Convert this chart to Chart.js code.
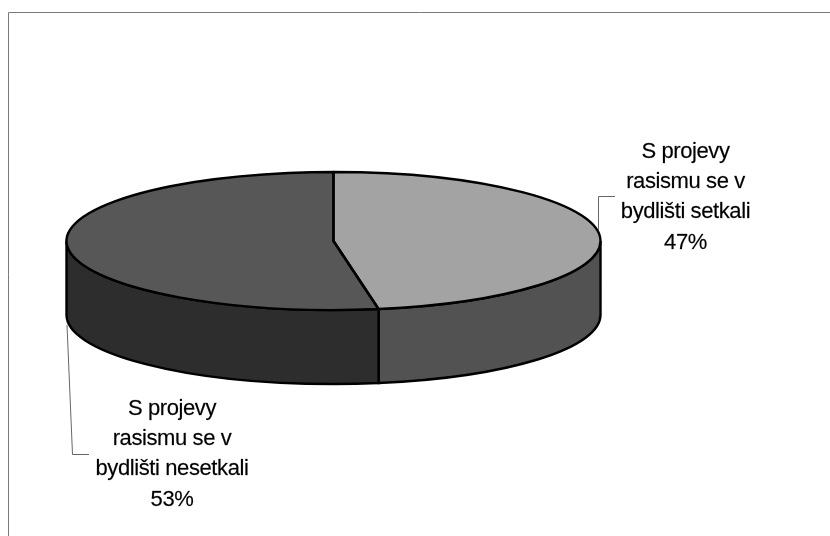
<!DOCTYPE html>
<html lang="en">
<head>
<meta charset="UTF-8">
<title>Projevy rasismu</title>
<script src="https://cdn.jsdelivr.net/npm/chart.js"></script>
<style>
    html, body { margin: 0; padding: 0; background: #ffffff; }
    canvas { display: block; }
</style>
</head>
<body>
<canvas id="pie" width="830" height="536"></canvas>
<script>
const categories = ['S projevy rasismu se v bydlišti setkali', 'S projevy rasismu se v bydlišti nesetkali'];
const shares = [47.3, 52.7];
const topColors = ['#a3a3a3', '#575757'];
const wallColors = ['#525252', '#2d2d2d'];
const labelLines = [
    ['S projevy', 'rasismu se v', 'bydlišti setkali', '47%'],
    ['S projevy', 'rasismu se v', 'bydlišti nesetkali', '53%']
];

// flattened disc position on the page
const cx = 333.5, cy = 241, rx = 267, ry = 69, depth = 74;

function ellipseArc(ctx, y, a0, a1, ccw) {
    ctx.ellipse(cx, y, rx, ry, 0, a0, a1, ccw);
}

const disc3d = {
    id: 'disc3d',
    beforeDatasetsDraw(chart) {
        const ctx = chart.ctx;
        const arcs = chart.getDatasetMeta(0).data;
        // frame
        ctx.strokeStyle = '#7a7a7a';
        ctx.lineWidth = 1;
        ctx.beginPath();
        ctx.moveTo(8.5, 536);
        ctx.lineTo(8.5, 12.5);
        ctx.lineTo(830, 12.5);
        ctx.stroke();
        // walls, only the front half of the disc shows
        arcs.forEach((arc, i) => {
            const a0 = Math.max(arc.startAngle, 0);
            const a1 = Math.min(arc.endAngle, Math.PI);
            if (a1 <= a0) return;
            ctx.beginPath();
            ellipseArc(ctx, cy, a0, a1, false);
            ellipseArc(ctx, cy + depth, a1, a0, true);
            ctx.closePath();
            ctx.fillStyle = wallColors[i];
            ctx.fill();
            ctx.strokeStyle = '#000';
            ctx.lineWidth = 2.4;
            ctx.stroke();
        });
        // squash the library's pie into the top face
        const arc = arcs[0];
        ctx.save();
        ctx.translate(cx, cy);
        ctx.scale(rx / arc.outerRadius, ry / arc.outerRadius);
        ctx.translate(-arc.x, -arc.y);
    },
    afterDatasetsDraw(chart) {
        const ctx = chart.ctx;
        ctx.restore();
        const arcs = chart.getDatasetMeta(0).data;
        ctx.strokeStyle = '#000';
        ctx.lineWidth = 2.4;
        ctx.lineJoin = 'round';
        arcs.forEach(arc => {
            ctx.beginPath();
            ctx.moveTo(cx, cy);
            ellipseArc(ctx, cy, arc.startAngle, arc.endAngle, false);
            ctx.closePath();
            ctx.stroke();
        });
        // leader lines
        ctx.strokeStyle = '#666';
        ctx.lineWidth = 1;
        ctx.beginPath();
        ctx.moveTo(598.5, 230);
        ctx.lineTo(598.5, 196.5);
        ctx.lineTo(615, 196.5);
        ctx.moveTo(67, 325);
        ctx.lineTo(72.5, 454.5);
        ctx.lineTo(89, 454.5);
        ctx.stroke();
        // labels
        ctx.fillStyle = '#000';
        ctx.strokeStyle = 'rgba(0,0,0,0.6)';
        ctx.lineWidth = 0.3;
        ctx.font = '22px "Liberation Sans", Arial, sans-serif';
        ctx.letterSpacing = '-0.4px';
        ctx.textAlign = 'center';
        ctx.textBaseline = 'alphabetic';
        const spots = [[685.5, 158], [172, 415]];
        labelLines.forEach((lines, i) => {
            lines.forEach((line, j) => {
                const y = spots[i][1] + j * 30.2;
                ctx.fillText(line, spots[i][0], y);
                ctx.strokeText(line, spots[i][0], y);
            });
        });
    }
};

new Chart(document.getElementById('pie'), {
    type: 'pie',
    data: {
        labels: categories,
        datasets: [{
            data: shares,
            backgroundColor: topColors,
            borderWidth: 0,
            hoverOffset: 0
        }]
    },
    options: {
        responsive: false,
        animation: false,
        plugins: { legend: { display: false }, tooltip: { enabled: false } }
    },
    plugins: [disc3d]
});
</script>
</body>
</html>
